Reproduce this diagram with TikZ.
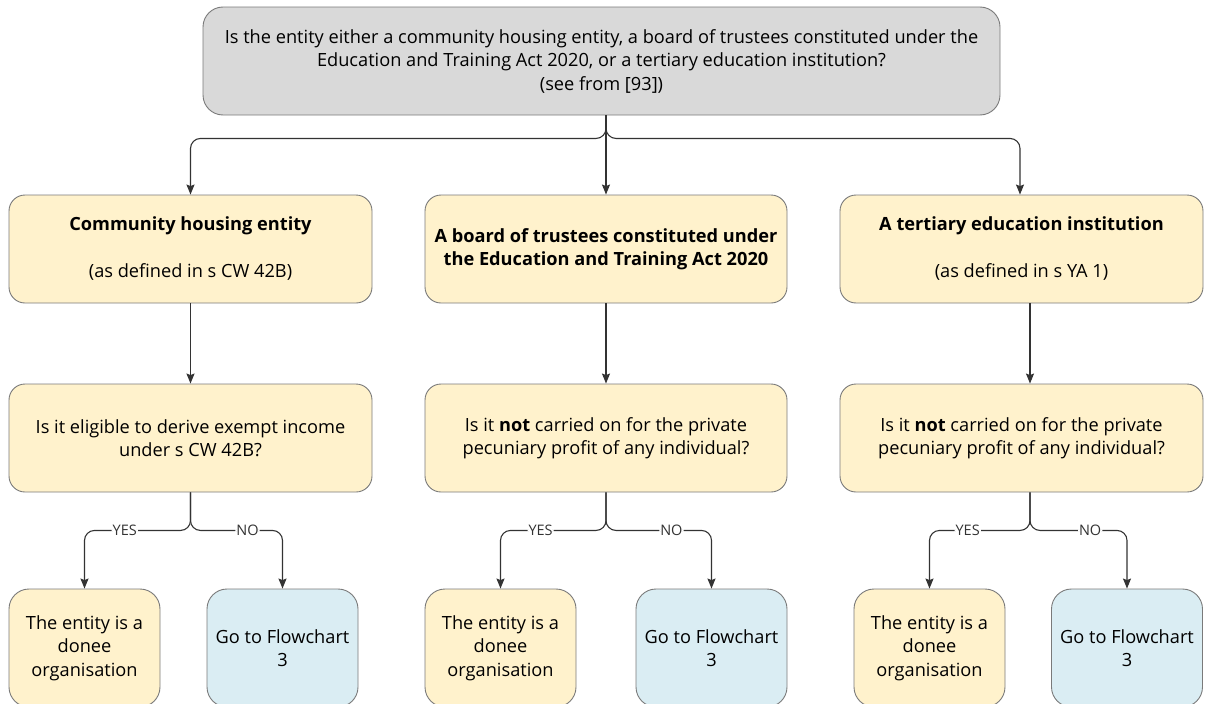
\documentclass[tikz,border=0pt]{standalone}
\usepackage{fontspec}
\setmainfont{Open Sans}
\usetikzlibrary{arrows.meta,calc,positioning}

\definecolor{boxgray}{HTML}{D9D9D9}
\definecolor{boxyellow}{HTML}{FFF2CC}
\definecolor{boxblue}{HTML}{DAEDF3}
\definecolor{edgegray}{HTML}{7A7A7A}
\definecolor{linegray}{HTML}{333333}

\tikzset{
  basebox/.style={draw=edgegray, line width=0.9pt, rounded corners=16pt,
    align=center, inner sep=0pt, font=\fontsize{18.2}{23.5}\selectfont, text=black},
  headbox/.style={basebox, fill=boxgray, rounded corners=20pt},
  ybox/.style={basebox, fill=boxyellow},
  bbox/.style={basebox, fill=boxblue, rounded corners=20pt},
  endbox/.style={basebox, fill=boxyellow, rounded corners=20pt},
  arr/.style={draw=linegray, line width=1.1pt, rounded corners=10pt,
    -{Stealth[length=10pt,width=8pt,inset=1.5pt]}},
  lbl/.style={fill=white, inner sep=1pt, text=linegray,
    font=\fontsize{14.5}{16}\selectfont},
}

\begin{document}
\begin{tikzpicture}[x=1pt,y=-1pt]
\useasboundingbox (0,0) rectangle (1205,704);

% question at the top
\node[headbox, minimum width=797pt, minimum height=108pt] (top) at (601.5,61)
  {Is the entity either a community housing entity, a board of trustees constituted under the\\
   Education and Training Act 2020, or a tertiary education institution?\\
   (see from [93])};

% entity types
\node[ybox, minimum width=363pt, minimum height=108pt] (b1) at (190.5,249)
  {\textbf{Community housing entity}\\[23.5pt](as defined in s CW 42B)};
\node[ybox, minimum width=362pt, minimum height=108pt] (b2) at (606,249)
  {\textbf{A board of trustees constituted under}\\\textbf{the Education and Training Act 2020}};
\node[ybox, minimum width=363pt, minimum height=108pt] (b3) at (1021.5,249)
  {\textbf{A tertiary education institution}\\[23.5pt](as defined in s YA 1)};

% eligibility questions
\node[ybox, minimum width=363pt, minimum height=108pt] (q1) at (190.5,438)
  {Is it eligible to derive exempt income\\under s CW 42B?};
\node[ybox, minimum width=362pt, minimum height=108pt] (q2) at (606,438)
  {Is it \textbf{not} carried on for the private\\pecuniary profit of any individual?};
\node[ybox, minimum width=363pt, minimum height=108pt] (q3) at (1021.5,438)
  {Is it \textbf{not} carried on for the private\\pecuniary profit of any individual?};

% outcomes
\node[endbox, minimum width=151pt, minimum height=118pt] (y1) at (84.5,648)
  {The entity is a\\donee\\organisation};
\node[bbox, minimum width=151pt, minimum height=118pt] (n1) at (282.5,648)
  {Go to Flowchart\\3};
\node[endbox, minimum width=151pt, minimum height=118pt] (y2) at (500.5,648)
  {The entity is a\\donee\\organisation};
\node[bbox, minimum width=151pt, minimum height=118pt] (n2) at (711.5,648)
  {Go to Flowchart\\3};
\node[endbox, minimum width=151pt, minimum height=118pt] (y3) at (929.5,648)
  {The entity is a\\donee\\organisation};
\node[bbox, minimum width=151pt, minimum height=118pt] (n3) at (1127,648)
  {Go to Flowchart\\3};

% fork from the top question
\coordinate (fork) at (top.south -| b2.north);
\draw[arr] (fork) -- ++(0,23) -| (b1.north);
\draw[arr] (fork) -- (b2.north);
\draw[arr] (fork) -- ++(0,23) -| ($(b3.north)+(-1.5,0)$);

% entity type to question
\draw[arr] (b1.south) -- (q1.north);
\draw[arr] (b2.south) -- (q2.north);
\draw[arr] ($(b3.south)+(8.5,0)$) -- ($(q3.north)+(8.5,0)$);

% yes / no branches
\draw[arr] (q1.south) -- ++(0,38) -| node[lbl,pos=0.31]{YES} (y1.north);
\draw[arr] (q1.south) -- ++(0,38) -| node[lbl,pos=0.31]{NO} (n1.north);
\draw[arr] (q2.south) -- ++(0,38) -| node[lbl,pos=0.31]{YES} (y2.north);
\draw[arr] (q2.south) -- ++(0,38) -| node[lbl,pos=0.31]{NO} (n2.north);
\draw[arr] ($(q3.south)+(8.5,0)$) -- ++(0,38) -| node[lbl,pos=0.31]{YES} (y3.north);
\draw[arr] ($(q3.south)+(8.5,0)$) -- ++(0,38) -| node[lbl,pos=0.31]{NO} (n3.north);
\end{tikzpicture}
\end{document}
